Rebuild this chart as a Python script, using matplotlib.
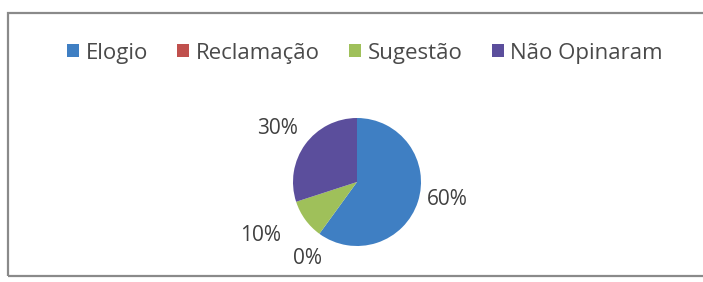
import numpy as np
import matplotlib
matplotlib.use("Agg")
import matplotlib.pyplot as plt
from matplotlib.patches import Rectangle

categories = ["Elogio", "Reclamação", "Sugestão", "Não Opinaram"]
values = [60, 0, 10, 30]
pct_labels = ["60%", "0%", "10%", "30%"]
colors = ["#3f7fc3", "#c0504d", "#9fc05a", "#5b4e9c"]
label_dist = [1.43, 1.42, 1.72, 1.50]
label_angle_shift = [7, 3, -7, 2]

plt.rcParams['font.family'] = ['Open Sans', 'DejaVu Sans']
W, H = 703, 282
fig = plt.figure(figsize=(W / 100, H / 100), dpi=100)
fig.patch.set_facecolor("white")

# chart border
fig.patches.append(Rectangle((8 / W, 1 - 276 / H), 720 / W, 263 / H,
                             transform=fig.transFigure, fill=False,
                             edgecolor="#8a8a8a", lw=1.6))

cx, cy, r = 357, 182, 64
ax = fig.add_axes([(cx - r) / W, (H - cy - r) / H, 2 * r / W, 2 * r / H])
wedges, _ = ax.pie(values, colors=colors, startangle=90, counterclock=False,
                   radius=1, wedgeprops=dict(linewidth=0))
ax.set_xlim(-1, 1)
ax.set_ylim(-1, 1)
ax.set_aspect("auto")
ax.axis("off")

for w, lab, d, s in zip(wedges, pct_labels, label_dist, label_angle_shift):
    if w.theta2 - w.theta1 > 0:
        ang = np.deg2rad((w.theta1 + w.theta2) / 2 + s)
    else:
        ang = np.deg2rad(w.theta1 + s)
    ax.text(d * np.cos(ang), d * np.sin(ang), lab, ha="center", va="center",
            fontsize=15, color="#404040", clip_on=False)

handles = [Rectangle((0, 0), 1, 1, facecolor=c, edgecolor="none") for c in colors]
fig.legend(handles, categories, loc="center", bbox_to_anchor=(365 / W, 1 - 53 / H),
           ncol=4, frameon=False, fontsize=16, handlelength=0.55, handleheight=0.55,
           handletextpad=0.3, columnspacing=1.3, labelcolor="#4a4a4a")

fig.savefig("out.png", dpi=100)
